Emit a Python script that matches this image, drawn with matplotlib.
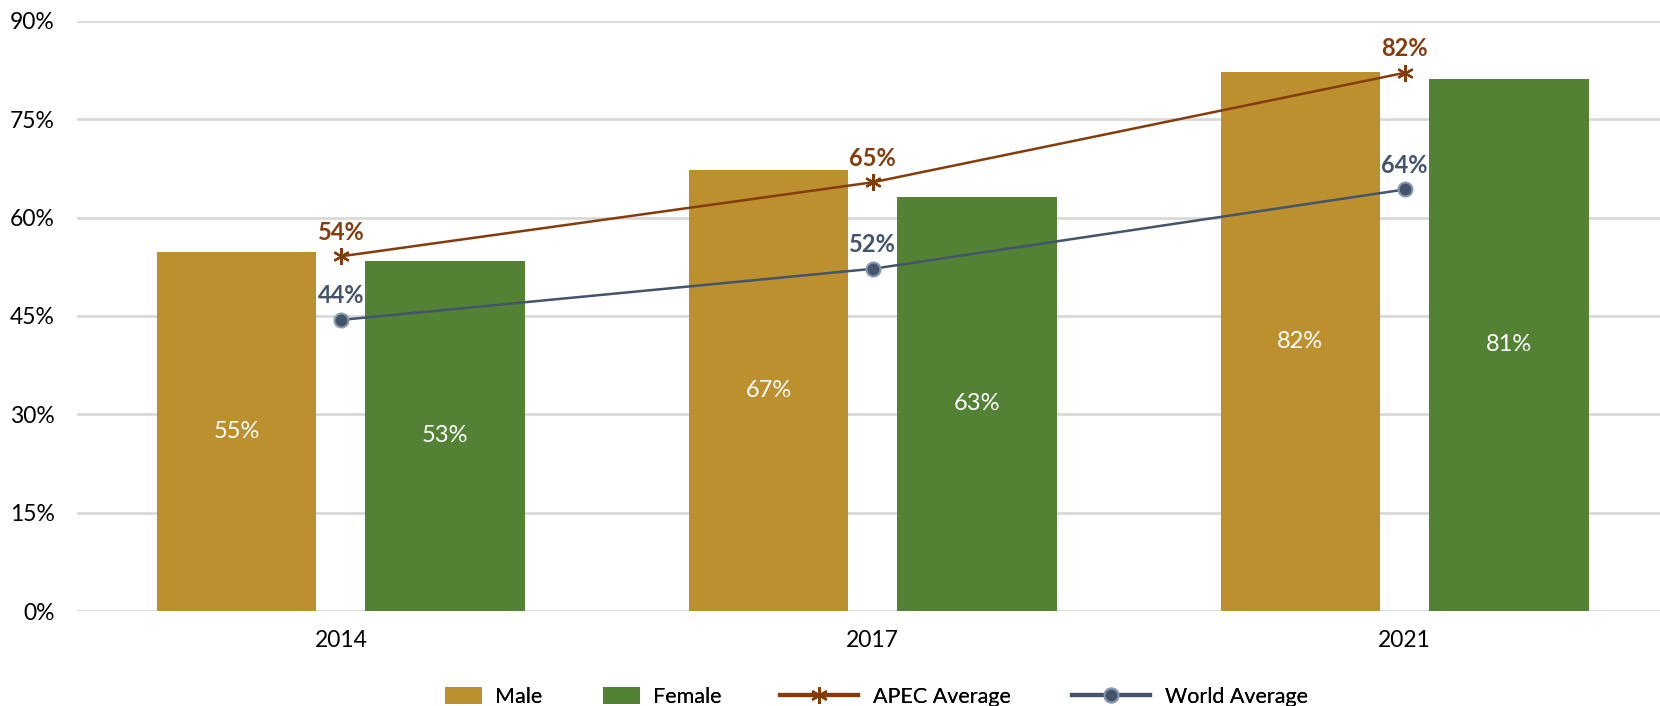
import matplotlib
matplotlib.use("Agg")
import matplotlib.pyplot as plt
import numpy as np
from matplotlib.patches import Patch
from matplotlib.lines import Line2D

plt.rcParams['font.family'] = ['Lato', 'DejaVu Sans']

years = ["2014", "2017", "2021"]
male = [54.7, 67.2, 82.2]
female = [53.4, 63.2, 81.2]
apec = [54.1, 65.4, 82.1]
world = [44.4, 52.2, 64.3]
yticks = [0, 15, 30, 45, 60, 75, 90]

c_male = "#BC8F2F"
c_female = "#548235"
c_apec = "#843C0C"
c_world = "#44546A"

fig = plt.figure(figsize=(16.6, 7.06), dpi=100)
ax = fig.add_axes([77/1660, 1-611/706, 1-77/1660, (611-21)/706])

x = np.arange(len(years))
w = 0.30
off = 0.196
bm = ax.bar(x - off, male, w, color=c_male, zorder=2)
bf = ax.bar(x + off, female, w, color=c_female, zorder=2)
for bars, vals in ((bm, male), (bf, female)):
    for b, v in zip(bars, vals):
        ax.text(b.get_x() + b.get_width()/2, v/2, f"{v:.0f}%", ha="center", va="center",
                color="white", fontsize=17, zorder=5)

ax.plot(x, apec, color=c_apec, lw=1.8, marker=(6, 2, 0), markersize=12,
        markeredgewidth=1.6, zorder=4)
ax.plot(x, world, color=c_world, lw=1.8, marker="o", markersize=10,
        markerfacecolor=c_world, markeredgecolor="#8497B0", markeredgewidth=1.5, zorder=4)
for xi, v in zip(x, apec):
    ax.annotate(f"{v:.0f}%", (xi, v), xytext=(0, 9), textcoords="offset points",
                ha="center", va="bottom", color=c_apec, fontsize=17, fontweight="bold", zorder=6)
for xi, v in zip(x, world):
    ax.annotate(f"{v:.0f}%", (xi, v), xytext=(0, 9), textcoords="offset points",
                ha="center", va="bottom", color=c_world, fontsize=17, fontweight="bold", zorder=6)

ax.set_xlim(-0.496, 2.48)
ax.set_ylim(0, 90)
ax.set_yticks(yticks)
ax.set_yticklabels([f"{t}%" for t in yticks], fontsize=16.5)
ax.set_xticks(x)
ax.set_xticklabels(years, fontsize=16.5)
ax.tick_params(axis="both", length=0, colors="black")
ax.tick_params(axis="y", pad=16)
ax.tick_params(axis="x", pad=14)
ax.yaxis.grid(True, color="#D9D9D9", lw=2, zorder=0)
ax.set_axisbelow(True)
for s in ax.spines.values():
    s.set_visible(False)

# Legend: one entry per legend so patch and line handles can differ in length
entries = [
    (Patch(facecolor=c_male, edgecolor="none", label="Male"), 445, 1.72, 0.6),
    (Patch(facecolor=c_female, edgecolor="none", label="Female"), 603, 1.72, 0.6),
    (Line2D([], [], color=c_apec, lw=3, marker=(6, 2, 0), markersize=12,
            markeredgewidth=1.6, label="APEC Average"), 780, 3.62, 0.7),
    (Line2D([], [], color=c_world, lw=3, marker="o", markersize=10, markerfacecolor=c_world,
            markeredgecolor="#8497B0", markeredgewidth=1.5, label="World Average"), 1072, 3.62, 0.7),
]
for h, px, hl, tp in entries:
    leg = fig.legend(handles=[h], loc="center left", bbox_to_anchor=(px/1660, 1-697/706),
                     frameon=False, fontsize=15.5, handlelength=hl, handleheight=0.88,
                     handletextpad=tp, borderpad=0, borderaxespad=0)
    fig.add_artist(leg)

fig.savefig("out.png", dpi=100)
